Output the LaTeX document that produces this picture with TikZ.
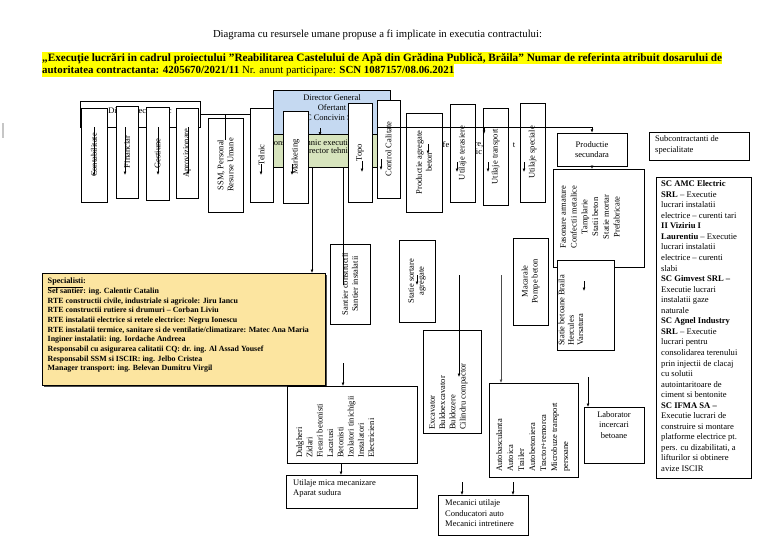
\documentclass[tikz,border=0pt]{standalone}
\usepackage{fontspec}
\setmainfont{Liberation Serif}
\usetikzlibrary{arrows.meta}
\definecolor{hl}{RGB}{255,255,0}
\definecolor{dgblue}{RGB}{197,217,241}
\definecolor{dtgreen}{RGB}{215,228,189}
\definecolor{specfill}{RGB}{252,229,160}
\begin{document}
\begin{tikzpicture}[x=1pt,y=-1pt,
  box/.style={draw, fill=white, inner sep=0pt, line width=0.6pt},
  vbox/.style={box, rotate=90, align=center, font=\fontsize{8.5}{10}\selectfont},
  txt/.style={inner sep=0pt, font=\fontsize{8.5}{10.5}\selectfont},
  rtxt/.style={inner sep=0pt, rotate=90, anchor=north west, align=left, font=\fontsize{8.5}{10.3}\selectfont},
  arr/.style={-{Latex[length=3.4pt,width=2.8pt]}, line width=0.6pt},
  ln/.style={line width=0.6pt}]
\fill[white] (0,0) rectangle (768,543);
\useasboundingbox (0,0) rectangle (768,543);

% title
\node[inner sep=0pt, anchor=base] (title) at (377.5,38) {\resizebox{329pt}{!}{\fontsize{10}{12}\selectfont Diagrama cu resursele umane propuse a fi implicate in executia contractului:}};
\fill[hl] (42,52.5) rectangle (722,64.5);
\fill[hl] (42,64.5) rectangle (454,77);
\node[inner sep=0pt, anchor=base west] (l1) at (42,61.5) {\resizebox{680pt}{!}{\fontsize{10.3}{12}\selectfont\bfseries „Execuţie lucrări in cadrul proiectului "Reabilitarea Castelului de Apă din Grădina Publică, Brăila" Numar de referinta atribuit dosarului de}};
\node[inner sep=0pt, anchor=base west] (l2) at (42,74) {\resizebox{412pt}{!}{\fontsize{10.3}{12}\selectfont\textbf{autoritatea contractanta: 4205670/2021/11} Nr. anunt participare: \textbf{SCN 1087157/08.06.2021}}};
\draw[gray!45, line width=1.3pt] (3,123) -- (3,138);

% header, director general, director tehnic
\node[box, fill=none, minimum width=120pt, minimum height=26pt, anchor=north west] (direc) at (80,101) {};
\node[txt] (direct) at (140,110.5) {Director economic};
\node[box, fill=dgblue, minimum width=117pt, minimum height=44pt, anchor=north west] (dg) at (273,90) {};
\draw[ln] (direc.east) -- (dg.west |- direc.east);
\node[txt] (dg1) at (332,98) {Director General};
\node[txt] (dg2) at (332,108) {Ofertant};
\node[txt] (dg3) at (332,118) {SC Concivin SRL};
\node[box, fill=dtgreen, minimum width=119pt, minimum height=33pt, anchor=north west] (dt) at (273,134) {};
\node[txt, anchor=east] (dt1) at (352,143) {Responsabil tehnic executie};
\node[txt, anchor=east] (dt2) at (352,151) {Director tehnic};
\draw[arr] (320,128) -- (320,135.5);
\node[txt] (f1) at (446,145) {fe};
\node[txt] (f2) at (479,145) {re,};
\node[txt] (f3) at (479,152) {ic};
\node[txt] (f4) at (514,145) {t};

% top vertical boxes
\node[vbox, minimum width=94pt, minimum height=26pt] (cont) at (94,155) {Contabilitate};
\node[vbox, minimum width=92pt, minimum height=22pt] (fin) at (127,152) {Financiar};
\node[vbox, minimum width=93pt, minimum height=23pt] (gest) at (157.5,153.5) {Gestiune};
\node[vbox, minimum width=90pt, minimum height=22pt] (aprov) at (187,153) {Aprovizionare};
\node[vbox, minimum width=94pt, minimum height=35pt] (ssm) at (225.5,165) {SSM, Personal\\Resurse Umane};
\node[vbox, minimum width=94pt, minimum height=23pt] (telnic) at (261.5,155) {Telnic};
\node[vbox, minimum width=92pt, minimum height=25pt] (mkt) at (295.5,157) {Marketing};
\node[vbox, minimum width=99pt, minimum height=24pt] (topo) at (360,152.5) {Topo};
\node[vbox, minimum width=98pt, minimum height=23pt] (cc) at (388.5,149) {Control Calitate};
\node[vbox, minimum width=99pt, minimum height=36pt] (pab) at (424,162.5) {Productie agregate\\beton};
\node[vbox, minimum width=98pt, minimum height=25pt] (ut) at (462.5,153) {Utilaje terasiere};
\node[vbox, minimum width=97pt, minimum height=25pt] (utr) at (495.5,156.5) {Utilaje transport};
\node[vbox, minimum width=99pt, minimum height=25pt] (us) at (532.5,152.5) {Utilaje speciale};

% arrows inside top boxes
\draw[arr] (94,127) -- (94,176);
\draw[arr] (125,127) -- (125,175);
\draw[arr] (158,127) -- (158,175);
\draw[arr] (188,127) -- (188,175);
\draw[ln] (225,114) -- (225,140);
\draw[arr] (261,164) -- (261,175);
\draw[arr] (292,164) -- (292,175);
\draw[arr] (362,161) -- (362,172);
\draw[arr] (381,159) -- (381,170);
\draw[arr] (428,144) -- (428,154);
\draw[arr] (457,162) -- (457,172);
\draw[arr] (488,162) -- (488,172);
\draw[arr] (524,162) -- (524,172);

% right side
\node[box, minimum width=70pt, minimum height=33pt, align=center, font=\fontsize{8.5}{10.5}\selectfont] (ps) at (592,149.5) {Productie\\secundara};
\draw[ln] (377,127) -- (592,127);
\draw[arr] (592,127) -- (ps.north);
\draw[arr] (484,127) -- (484,134);
\node[box, minimum width=100pt, minimum height=28pt, anchor=north west] (sub) at (649,132) {};
\node[txt, anchor=north west, align=left] (subt) at (655,135.5) {Subcontractanti de\\specialitate};
\node[box, minimum width=91pt, minimum height=98pt, anchor=north west] (fas) at (553,169) {};
\node[inner sep=0pt, rotate=90, align=center, font=\fontsize{8.5}{10.8}\selectfont] (fast) at (590,217) {Fasonare armature\\Confectii metalice\\Tamplarie\\Statii beton\\Statie mortar\\Prefabricate};
\draw[arr] (ps.south) -- (ps.south |- fas.north);
\node[box, minimum width=57pt, minimum height=90pt, anchor=north west] (sbb) at (557,260) {};
\node[rtxt, font=\fontsize{8.5}{9.4}\selectfont] (sbbt) at (558.3,346) {Statie betoane Braila\\Hercules\\Varsatura};
\draw[arr] (584,281) -- (584,291);

\node[box, minimum width=95pt, minimum height=301pt, anchor=north west] (amc) at (656,177) {};
\node[inner sep=0pt, anchor=north west, align=left, font=\fontsize{8.6}{10.55}\selectfont] (amct) at (661,180.5) {%
\textbf{SC AMC Electric}\\
\textbf{SRL} -- Executie\\
lucrari instalatii\\
electrice -- curenti tari\\
\textbf{II Viziriu I}\\
\textbf{Laurentiu} -- Executie\\
lucrari instalatii\\
electrice -- curenti\\
slabi\\
\textbf{SC Gimvest SRL --}\\
Executie lucrari\\
instalatii gaze\\
naturale\\
\textbf{SC Agnel Industry}\\
\textbf{SRL} -- Executie\\
lucrari pentru\\
consolidarea terenului\\
prin injectii de clacaj\\
cu solutii\\
autointaritoare de\\
ciment si bentonite\\
\textbf{SC IFMA SA --}\\
Executie lucrari de\\
construire si montare\\
platforme electrice pt.\\
pers. cu dizabilitati, a\\
lifturilor si obtinere\\
avize ISCIR};

% lines from director tehnic
\draw[arr] (312,167) -- (312,273);
\draw[ln] (343,167) -- (343,244);

% specialisti
\fill[black!70] (44,275) rectangle (327,387);
\node[box, fill=specfill, minimum width=283pt, minimum height=112pt, anchor=north west] (spec) at (42,273) {};
\node[inner sep=0pt, anchor=north west, align=left, font=\fontsize{7.9}{9.65}\selectfont\bfseries] (spect) at (47.5,278) {%
{\fontsize{8.2}{9.65}\selectfont\underline{Specialisti}:}\\
Sef santier: ing. Calentir Catalin\\
RTE constructii civile, industriale si agricole: Jiru Iancu\\
RTE constructii rutiere si drumuri -- Corban Liviu\\
RTE instalatii electrice si retele electrice: Negru Ionescu\\
RTE instalatii termice, sanitare si de ventilatie/climatizare: Matec Ana Maria\\
Inginer instalatii: ing. Iordache Andreea\\
Responsabil cu asigurarea calitatii CQ: dr. ing. Al Assad Yousef\\
Responsabil SSM si ISCIR: ing. Jelbo Cristea\\
Manager transport: ing. Belevan Dumitru Virgil};

% middle boxes
\node[vbox, minimum width=80pt, minimum height=40pt] (sant) at (350,284) {Santier constructii\\Santier instalatii};
\draw[ln] (343,244) -- (343,285);
\node[vbox, minimum width=82pt, minimum height=36pt] (sort) at (417,281) {Statie sortare\\agregate};
\draw[arr] (417,275) -- (417,285);
\node[vbox, minimum width=87pt, minimum height=35pt] (mac) at (530.5,281.5) {Macarale\\Pompe beton};

\node[box, minimum width=130pt, minimum height=77pt, anchor=north west] (dulg) at (287,386) {};
\node[rtxt] (dulgt) at (296,458) {Dulgheri\\Zidari\\Fierari betonisti\\Lacatusi\\Betonisti\\Izolatori tinichigii\\Instalatori\\Electricieni};
\draw[arr] (343,363) -- (343,386);
\node[box, minimum width=131pt, minimum height=33pt, anchor=north west] (uml) at (286,475) {};
\node[txt, anchor=north west, align=left] (umlt) at (293,479) {Utilaje mica mecanizare\\Aparat sudura};
\draw[arr] (341,463) -- (341,475);

\node[box, minimum width=58pt, minimum height=103pt, anchor=north west] (exc) at (423,330) {};
\node[rtxt] (exct) at (429,430) {Excavator\\Buldoexcavator\\Buldozere\\Cilindru compactor};
\draw[arr] (459,275) -- (459,377);

\node[box, minimum width=89pt, minimum height=94pt, anchor=north west] (aut) at (489,383) {};
\node[rtxt, font=\fontsize{8.5}{11}\selectfont] (autt) at (496,472) {Autobasculanta\\Autoica\\Trailer\\Autobetoniera\\Tractor+remorca\\Microbuze transport\\persoane};
\draw[arr, black!70] (501,275) -- (501,383);

\node[box, minimum width=90pt, minimum height=40pt, anchor=north west] (mec) at (438,495) {};
\node[txt, anchor=north west, align=left] (mect) at (445,499.5) {Mecanici utilaje\\Conducatori auto\\Mecanici intretinere};
\draw[arr] (462,482) -- (462,495);
\draw[arr] (513,482) -- (513,495);

\node[box, minimum width=60pt, minimum height=56pt, anchor=north west] (lab) at (584,407) {};
\node[txt, align=center, anchor=north] (labt) at (614,411) {Laborator\\incercari\\betoane};
\draw[arr] (588,377) -- (588,407);
\end{tikzpicture}
\end{document}
